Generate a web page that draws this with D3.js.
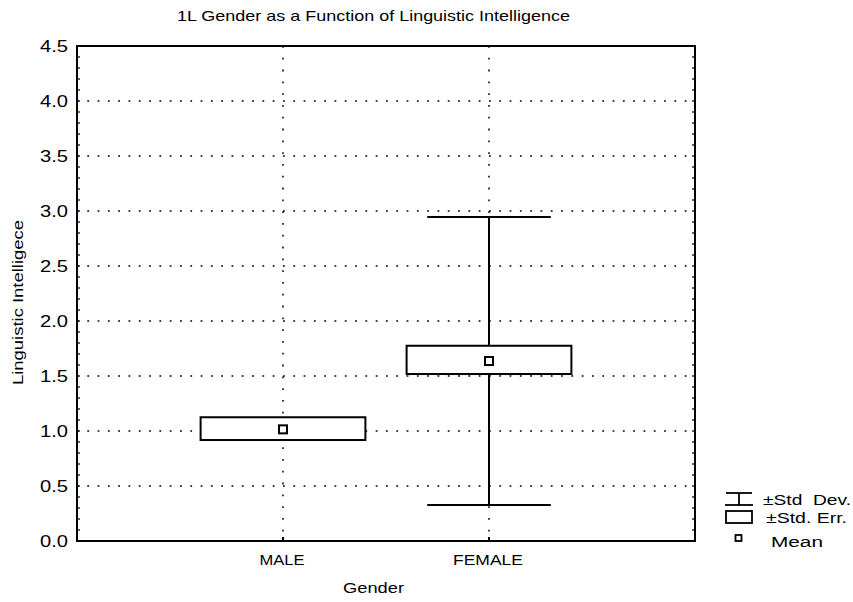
<!DOCTYPE html>
<html><head><meta charset="utf-8">
<script src="https://cdn.jsdelivr.net/npm/d3@7"></script>
<style>body{margin:0;background:#fff}svg{display:block}text{font-family:"Liberation Sans",Arial,sans-serif;fill:#000}</style>
</head><body>
<svg id="c" width="853" height="602"></svg>
<script>
const categories = ["MALE", "FEMALE"];
const means = [1.015, 1.636];
const seLow = [0.918, 1.518];
const seHigh = [1.125, 1.775];
const sdLow = [null, 0.328];
const sdHigh = [null, 2.946];
const yTicks = [0, 0.5, 1.0, 1.5, 2.0, 2.5, 3.0, 3.5, 4.0, 4.5];
const legendLabels = ["\u00b1Std  Dev.", "\u00b1Std. Err.", "Mean"];

const svg = d3.select("#c");
const L = 77, R = 695, T = 46, B = 541;
const x = d3.scaleLinear().domain([0, 3]).range([L, R]);
const y = d3.scaleLinear().domain([0, 4.5]).range([B, T]);
const pos = categories.map((c, i) => i + 1);

// grid
const g = svg.append("g");
g.selectAll("line.h").data(yTicks.filter(d => d > 0 && d < 4.5)).join("line")
  .attr("x1", L).attr("x2", R).attr("y1", d => y(d)).attr("y2", d => y(d))
  .attr("stroke", "#000").attr("stroke-width", 1.5).attr("stroke-dasharray", "1.8,8.5");
g.selectAll("line.v").data(pos).join("line")
  .attr("x1", d => x(d)).attr("x2", d => x(d)).attr("y1", T).attr("y2", B)
  .attr("stroke", "#000").attr("stroke-width", 1.5).attr("stroke-dasharray", "1.8,10");

// whiskers
const wHalf = 0.3;
pos.forEach((p, i) => {
  if (sdLow[i] == null) return;
  svg.append("line").attr("x1", x(p)).attr("x2", x(p)).attr("y1", y(sdLow[i])).attr("y2", y(sdHigh[i]))
    .attr("stroke", "#000").attr("stroke-width", 2);
  [sdLow[i], sdHigh[i]].forEach(v => {
    svg.append("line").attr("x1", x(p - wHalf)).attr("x2", x(p + wHalf)).attr("y1", y(v)).attr("y2", y(v))
      .attr("stroke", "#000").attr("stroke-width", 2);
  });
});
// boxes
const bHalf = 0.4;
svg.selectAll("rect.box").data(pos).join("rect")
  .attr("x", d => x(d - bHalf)).attr("width", d => x(d + bHalf) - x(d - bHalf))
  .attr("y", (d, i) => y(seHigh[i])).attr("height", (d, i) => y(seLow[i]) - y(seHigh[i]))
  .attr("fill", "#fff").attr("stroke", "#000").attr("stroke-width", 2);
svg.selectAll("rect.mean").data(pos).join("rect")
  .attr("x", d => x(d) - 4).attr("y", (d, i) => y(means[i]) - 4).attr("width", 8).attr("height", 8)
  .attr("fill", "#fff").attr("stroke", "#000").attr("stroke-width", 2);

// axes frame
svg.append("rect").attr("x", L).attr("y", T).attr("width", R - L).attr("height", B - T)
  .attr("fill", "none").attr("stroke", "#000").attr("stroke-width", 2);
// minor ticks
const minor = d3.range(0, 45).map(d => d / 10);
svg.selectAll("line.ml").data(minor).join("line")
  .attr("x1", L).attr("x2", L + 3).attr("y1", d => y(d)).attr("y2", d => y(d)).attr("stroke", "#000").attr("stroke-width", 1.2);
svg.selectAll("line.mr").data(minor).join("line")
  .attr("x1", R - 3).attr("x2", R).attr("y1", d => y(d)).attr("y2", d => y(d)).attr("stroke", "#000").attr("stroke-width", 1.2);
svg.selectAll("line.xt").data(pos).join("line")
  .attr("x1", d => x(d)).attr("x2", d => x(d)).attr("y1", B - 4).attr("y2", B).attr("stroke", "#000").attr("stroke-width", 2);

function fit(sel, w) { return sel.attr("textLength", w).attr("lengthAdjust", "spacingAndGlyphs"); }

// y tick labels
fit(svg.selectAll("text.yt").data(yTicks).join("text")
  .attr("x", 68).attr("y", d => y(d) + 6).attr("text-anchor", "end")
  .attr("font-size", 16.5).text(d => d.toFixed(1)), 28);
// category labels
svg.selectAll("text.xt").data(categories).join("text")
  .attr("x", (d, i) => x(pos[i]) - [45, 70][i] / 2 - 1).attr("y", 565)
  .attr("font-size", 15).text(d => d)
  .attr("textLength", (d, i) => [45, 70][i]).attr("lengthAdjust", "spacingAndGlyphs");

fit(svg.append("text").attr("x", 177).attr("y", 21).attr("font-size", 15)
  .text("1L Gender as a Function of Linguistic Intelligence"), 393);
fit(svg.append("text").attr("x", 343).attr("y", 593).attr("font-size", 15).text("Gender"), 61);
fit(svg.append("text").attr("transform", "translate(23,385) rotate(-90)")
  .attr("font-size", 15).text("Linguistic Intelligece"), 165);

// legend
const lg = svg.append("g");
lg.append("line").attr("x1", 726).attr("x2", 752).attr("y1", 493).attr("y2", 493).attr("stroke", "#000").attr("stroke-width", 1.8);
lg.append("line").attr("x1", 725).attr("x2", 753).attr("y1", 505).attr("y2", 505).attr("stroke", "#000").attr("stroke-width", 1.8);
lg.append("line").attr("x1", 739).attr("x2", 739).attr("y1", 493).attr("y2", 505).attr("stroke", "#000").attr("stroke-width", 1.8);
lg.append("rect").attr("x", 726).attr("y", 511).attr("width", 26).attr("height", 12).attr("fill", "#fff").attr("stroke", "#000").attr("stroke-width", 1.8);
lg.append("rect").attr("x", 735.5).attr("y", 535).attr("width", 6).attr("height", 6).attr("fill", "#fff").attr("stroke", "#000").attr("stroke-width", 1.8);
lg.selectAll("text").data(legendLabels).join("text")
  .attr("x", (d, i) => [763, 766, 771][i]).attr("y", (d, i) => [505, 523, 547][i]).attr("font-size", 15.5)
  .attr("xml:space", "preserve").style("white-space", "pre").text(d => d)
  .attr("textLength", (d, i) => [88, 81, 52][i]).attr("lengthAdjust", "spacingAndGlyphs");
</script>
</body></html>
